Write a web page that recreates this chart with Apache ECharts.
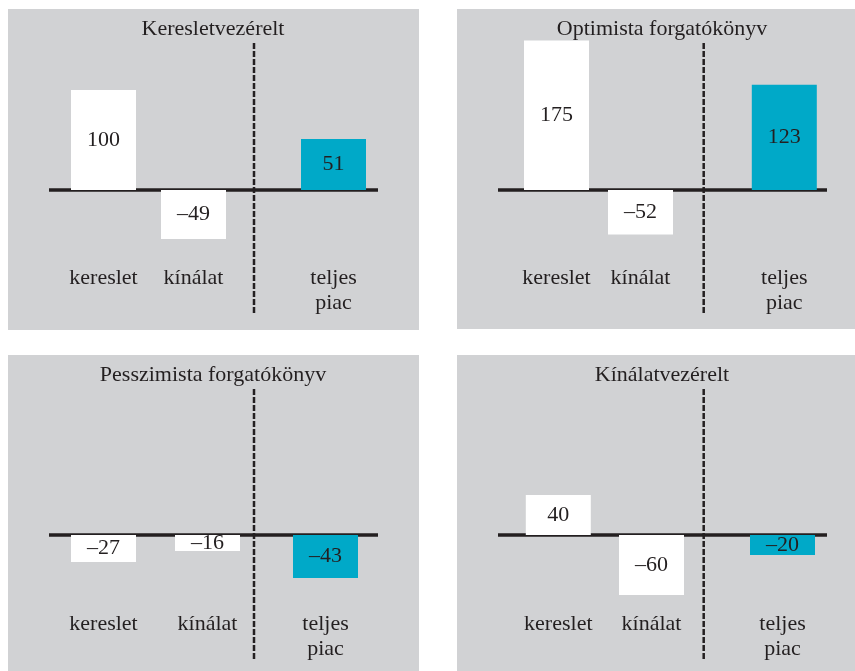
<!DOCTYPE html>
<html><head><meta charset="utf-8">
<script src="https://cdn.jsdelivr.net/npm/echarts@6/dist/echarts.min.js"></script>
<style>html,body{margin:0;padding:0;background:#fff;}#c{width:855px;height:671px;}</style>
</head><body><div id="c"></div>
<script>
// ---- data ----
const leftCategories = ['kereslet', 'kínálat'];
const rightCategories = ['teljes\npiac'];
const titles = ['Keresletvezérelt', 'Optimista forgatókönyv', 'Pesszimista forgatókönyv', 'Kínálatvezérelt'];
// [kereslet, kínálat]
const keresletvezereltParts = [100, -49];
const optimistaParts = [175, -52];
const pesszimistaParts = [-27, -16];
const kinalatvezereltParts = [40, -60];
// teljes piac
const keresletvezereltTotal = [51];
const optimistaTotal = [123];
const pesszimistaTotal = [-43];
const kinalatvezereltTotal = [-20];

const partsList = [keresletvezereltParts, optimistaParts, pesszimistaParts, kinalatvezereltParts];
const totalList = [keresletvezereltTotal, optimistaTotal, pesszimistaTotal, kinalatvezereltTotal];

// ---- layout / style ----
const FONT = 'Liberation Serif';
const TXT = '#231f20';
const TEAL = '#00a9c8';
const BG = '#d1d2d4';
const panels = [
  {ox: 8,   oy: 9,   w: 411, h: 321, base: 181, s: 1.0,   lc: [95.5, 185.5], rc: 325.5, dash: 246},
  {ox: 457, oy: 9,   w: 398, h: 320, base: 181, s: 0.855, lc: [99.5, 183.5], rc: 327.3, dash: 246.7},
  {ox: 8,   oy: 355, w: 411, h: 316, base: 180, s: 1.0,   lc: [95.5, 199.5], rc: 317.5, dash: 246},
  {ox: 457, oy: 355, w: 398, h: 316, base: 180, s: 1.0,   lc: [101.3, 194.5], rc: 325.5, dash: 246.7}
];
const GT = 30, GB = 250;

const fmt = p => p.value < 0 ? '\u2013' + Math.abs(p.value) : String(p.value);
const grid = [], xAxis = [], yAxis = [], series = [];
panels.forEach((p, i) => {
  const [a, b] = p.lc;
  const gw = 2 * (b - a);
  grid.push({left: p.ox + a - gw / 4, width: gw, top: p.oy + GT, height: GB - GT});
  grid.push({left: p.ox + p.rc - 40, width: 80, top: p.oy + GT, height: GB - GT});
  const axisLabel = {fontFamily: FONT, fontSize: 22, lineHeight: 25, color: TXT, margin: 7, interval: 0};
  xAxis.push({type: 'category', gridIndex: 2 * i, data: leftCategories, axisLine: {show: false}, axisTick: {show: false}, axisLabel});
  xAxis.push({type: 'category', gridIndex: 2 * i + 1, data: rightCategories, axisLine: {show: false}, axisTick: {show: false}, axisLabel});
  const max = (p.base - GT) / p.s, min = -(GB - p.base) / p.s;
  [0, 1].forEach(k => yAxis.push({type: 'value', gridIndex: 2 * i + k, min, max, show: false, splitLine: {show: false}}));
  const label = {show: true, position: 'inside', formatter: fmt, fontFamily: FONT, fontSize: 22, color: TXT};
  series.push({type: 'bar', xAxisIndex: 2 * i, yAxisIndex: 2 * i, barWidth: 65, data: partsList[i], itemStyle: {color: '#ffffff'}, label, silent: true, animation: false, z: 3});
  series.push({type: 'bar', xAxisIndex: 2 * i + 1, yAxisIndex: 2 * i + 1, barWidth: 65, data: totalList[i], itemStyle: {color: TEAL}, label, silent: true, animation: false, z: 3});
});

const chart = echarts.init(document.getElementById('c'), null, {renderer: 'canvas'});
chart.setOption({animation: false, grid, xAxis, yAxis, series});

const graphic = [];
panels.forEach((p, i) => {
  const y0 = chart.convertToPixel({yAxisIndex: 2 * i}, 0);
  graphic.push({type: 'rect', z: -10, shape: {x: p.ox, y: p.oy, width: p.w, height: p.h}, style: {fill: BG}, silent: true});
  graphic.push({type: 'text', z: 1, x: p.ox + 205, y: p.oy + 20, style: {text: titles[i], font: '22px "' + FONT + '"', fill: TXT, textAlign: 'center', textVerticalAlign: 'middle'}, silent: true});
  graphic.push({type: 'line', z: 1, shape: {x1: p.ox + 41, y1: y0, x2: p.ox + 370, y2: y0}, style: {stroke: TXT, lineWidth: 3.5}, silent: true});
  graphic.push({type: 'line', z: 1, shape: {x1: p.ox + p.dash, y1: p.oy + 34, x2: p.ox + p.dash, y2: p.oy + 304}, style: {stroke: TXT, lineWidth: 2.5, lineDash: [6, 2]}, silent: true});
});
chart.setOption({graphic});
</script></body></html>
